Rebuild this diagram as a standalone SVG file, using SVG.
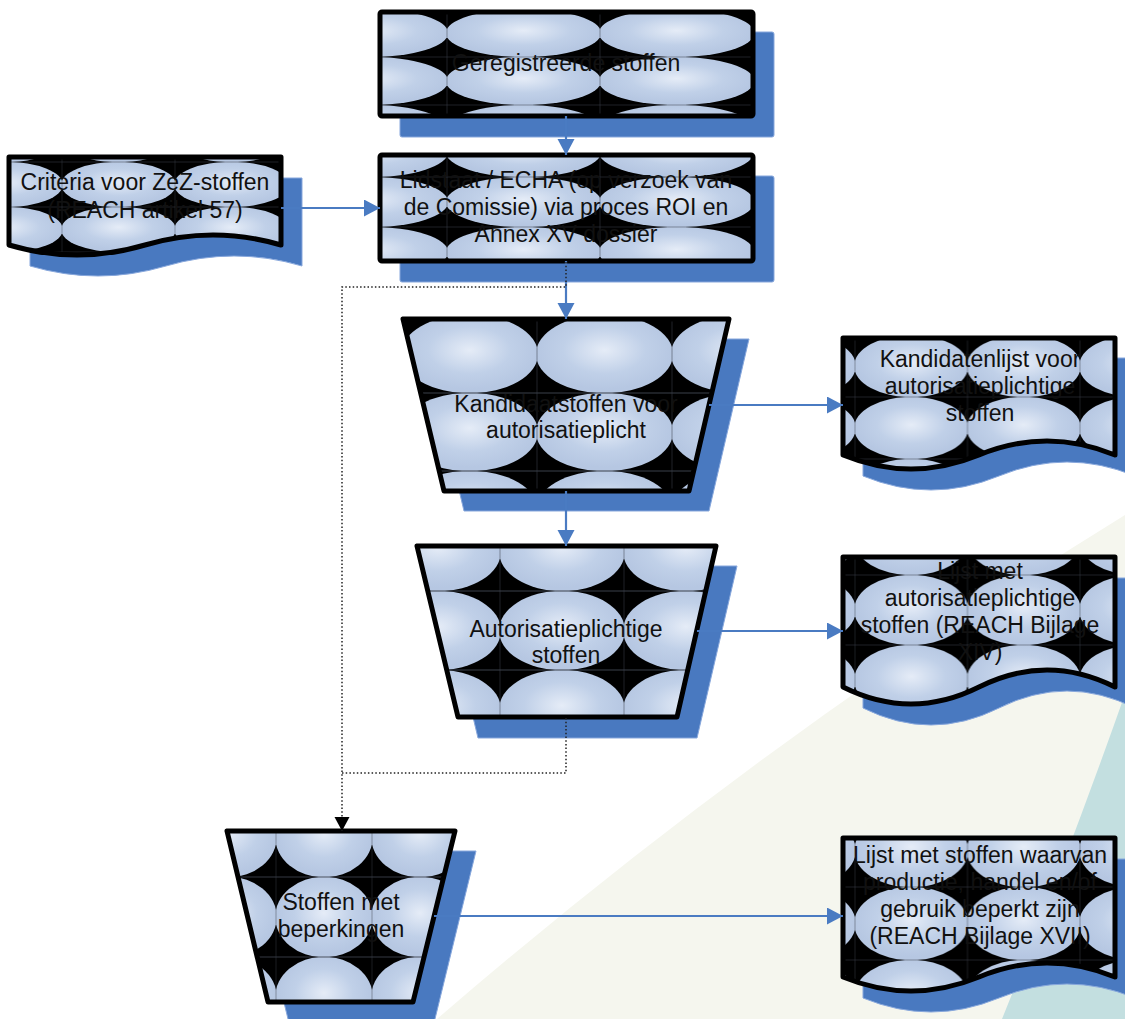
<svg xmlns="http://www.w3.org/2000/svg" xmlns:xlink="http://www.w3.org/1999/xlink" width="1125" height="1019" viewBox="0 0 1125 1019">
<style>
.t{font-family:"Liberation Sans",Arial,sans-serif;font-size:23px;fill:#111;text-anchor:middle}
.sh{fill:#4979c0;stroke:#87a7dc;stroke-width:1;stroke-linejoin:round}
.nd{stroke:#000;stroke-width:5;stroke-linejoin:round}
.cn{fill:none;stroke:#4a7bc2;stroke-width:2.2}
.dt{fill:none;stroke:#222;stroke-width:1.5;stroke-dasharray:1.5 2.2}
</style>
<defs>
<radialGradient id="eg" cx="0.5" cy="0.45" r="0.5">
<stop offset="0" stop-color="#e5ecf7"/>
<stop offset="0.6" stop-color="#c0d0e8"/>
<stop offset="1" stop-color="#b6c7e2"/>
</radialGradient>
<g id="tile">
<rect x="0" y="0" width="1" height="1" fill="#000"/>
<ellipse cx="0.5" cy="0.5" rx="0.508" ry="0.503" fill="url(#eg)"/>
<path d="M0,0H1M0,1H1" stroke="#3a404a" stroke-width="0.01" fill="none"/>
<path d="M0,0V1M1,0V1" stroke="#3a404a" stroke-width="0.005" fill="none"/>
</g>
<pattern id="pGer" patternUnits="userSpaceOnUse" x="447" y="9" width="153" height="48" viewBox="0 0 1 1" preserveAspectRatio="none"><use href="#tile"/></pattern>
<pattern id="pLid" patternUnits="userSpaceOnUse" x="447" y="177" width="153" height="50" viewBox="0 0 1 1" preserveAspectRatio="none"><use href="#tile"/></pattern>
<pattern id="pCr" patternUnits="userSpaceOnUse" x="-51" y="162" width="113" height="45" viewBox="0 0 1 1" preserveAspectRatio="none"><use href="#tile"/></pattern>
<pattern id="pKan" patternUnits="userSpaceOnUse" x="402" y="315" width="135" height="78" viewBox="0 0 1 1" preserveAspectRatio="none"><use href="#tile"/></pattern>
<pattern id="pKL" patternUnits="userSpaceOnUse" x="855" y="335" width="112.5" height="62" viewBox="0 0 1 1" preserveAspectRatio="none"><use href="#tile"/></pattern>
<pattern id="pAut" patternUnits="userSpaceOnUse" x="376" y="512" width="124" height="79" viewBox="0 0 1 1" preserveAspectRatio="none"><use href="#tile"/></pattern>
<pattern id="pLA" patternUnits="userSpaceOnUse" x="855" y="505" width="112.5" height="70" viewBox="0 0 1 1" preserveAspectRatio="none"><use href="#tile"/></pattern>
<pattern id="pSt" patternUnits="userSpaceOnUse" x="180" y="797" width="96" height="80" viewBox="0 0 1 1" preserveAspectRatio="none"><use href="#tile"/></pattern>
<pattern id="pLS" patternUnits="userSpaceOnUse" x="855" y="814" width="112.5" height="73" viewBox="0 0 1 1" preserveAspectRatio="none"><use href="#tile"/></pattern>
<marker id="ab" markerUnits="userSpaceOnUse" markerWidth="18" markerHeight="18" refX="16" refY="8.5" orient="auto"><path d="M0,0L16,8.5L0,17Z" fill="#4a7bc2"/></marker>
<marker id="ak" markerUnits="userSpaceOnUse" markerWidth="16" markerHeight="16" refX="14" refY="7.5" orient="auto"><path d="M0,0L14,7.5L0,15Z" fill="#000"/></marker>
</defs>

<g id="background">
<rect x="0" y="0" width="1125" height="1019" fill="#fff"/>
<path d="M1125,515 Q760,740 437,1019 L1125,1019Z" fill="#f5f6ee"/>
<path d="M1125,694 Q1070,850 1002,1019 L1125,1019Z" fill="#c3dfe0"/>
</g>

<g id="node-geregistreerd">
<rect class="sh" x="400" y="32" width="374" height="105" rx="2"/>
<rect class="nd" x="380" y="12" width="373" height="104" rx="2" fill="url(#pGer)"/>
<text class="t" x="566" y="71">Geregistreerde stoffen</text>
</g>

<g id="node-lidstaat">
<rect class="sh" x="400" y="176" width="374" height="106" rx="2"/>
<rect class="nd" x="380" y="155" width="373" height="106" rx="2" fill="url(#pLid)"/>
<text class="t" x="566" y="188">Lidstaat / ECHA (op verzoek van</text>
<text class="t" x="566" y="215">de Comissie) via proces ROI en</text>
<text class="t" x="566" y="242">Annex XV dossier</text>
</g>

<g id="node-criteria">
<path class="sh" d="M30,178H302V266Q234,246 166,266T30,266Z"/>
<path class="nd" d="M9,157H281V245Q213,225 145,245T9,245Z" fill="url(#pCr)"/>
<text class="t" x="145" y="190">Criteria voor ZeZ-stoffen</text>
<text class="t" x="145" y="218">(REACH artikel 57)</text>
</g>

<g id="node-kandidaatstoffen">
<path class="sh" d="M423,339H749L709,511H464Z"/>
<path class="nd" d="M403,319H729L689,491H444Z" fill="url(#pKan)"/>
<text class="t" x="566" y="412">Kandidaatstoffen voor</text>
<text class="t" x="566" y="438">autorisatieplicht</text>
</g>

<g id="node-kandidatenlijst">
<path class="sh" d="M863,358H1135V476Q1067,448 999,476T863,476Z"/>
<path class="nd" d="M843,338H1115V455Q1047,427 979,455T843,455Z" fill="url(#pKL)"/>
<text class="t" x="980" y="367">Kandidatenlijst voor</text>
<text class="t" x="980" y="394">autorisatieplichtige</text>
<text class="t" x="980" y="421">stoffen</text>
</g>

<g id="node-autorisatieplichtig">
<path class="sh" d="M437,566H737L697,738H478Z"/>
<path class="nd" d="M417,546H716L677,717H458Z" fill="url(#pAut)"/>
<text class="t" x="566" y="637">Autorisatieplichtige</text>
<text class="t" x="566" y="663">stoffen</text>
</g>

<g id="node-lijst-bijlage-xiv">
<path class="sh" d="M863,578H1135V708Q1067,674 999,708T863,708Z"/>
<path class="nd" d="M843,557H1115V687Q1047,653 979,687T843,687Z" fill="url(#pLA)"/>
<text class="t" x="980" y="579">Lijst met</text>
<text class="t" x="980" y="606">autorisatieplichtige</text>
<text class="t" x="980" y="633">stoffen (REACH Bijlage</text>
<text class="t" x="980" y="660">XIV)</text>
</g>

<g id="node-beperkingen">
<path class="sh" d="M247,851H476L434,1023H289Z"/>
<path class="nd" d="M227,831H455L413,1002H268Z" fill="url(#pSt)"/>
<text class="t" x="341" y="910">Stoffen met</text>
<text class="t" x="341" y="937">beperkingen</text>
</g>

<g id="node-lijst-bijlage-xvii">
<path class="sh" d="M863,859H1135V998Q1067,970 999,998T863,998Z"/>
<path class="nd" d="M843,838H1115V977Q1047,949 979,977T843,977Z" fill="url(#pLS)"/>
<text class="t" x="980" y="863">Lijst met stoffen waarvan</text>
<text class="t" x="980" y="890">productie, handel en/of</text>
<text class="t" x="980" y="917">gebruik beperkt zijn</text>
<text class="t" x="980" y="944">(REACH Bijlage XVII)</text>
</g>

<g id="connectors">
<path class="cn" d="M566,116V155" marker-end="url(#ab)"/>
<path class="cn" d="M281,208H380" marker-end="url(#ab)"/>
<path class="cn" d="M566,261V319" marker-end="url(#ab)"/>
<path class="cn" d="M709,405H843" marker-end="url(#ab)"/>
<path class="cn" d="M566,491V546" marker-end="url(#ab)"/>
<path class="cn" d="M697,631H843" marker-end="url(#ab)"/>
<path class="cn" d="M434,916H843" marker-end="url(#ab)"/>
<path class="dt" d="M566,262V287H342V831" marker-end="url(#ak)"/>
<path class="dt" d="M566,718V773H342"/>
</g>
</svg>
